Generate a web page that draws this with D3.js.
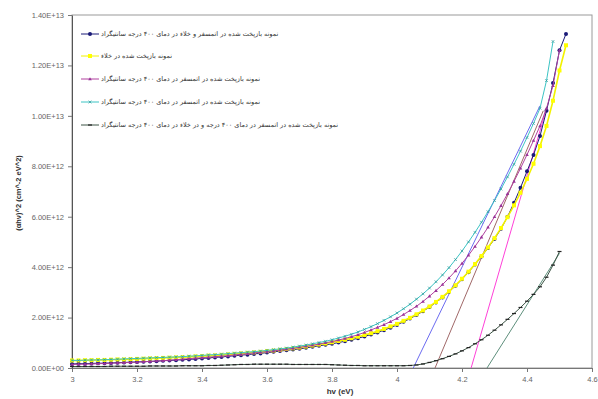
<!DOCTYPE html>
<html>
<head>
<meta charset="utf-8">
<script src="https://cdn.jsdelivr.net/npm/d3@7"></script>
<style>
  body { margin: 0; background: #fff; }
  svg { display: block; }
  .tick text { font-family: "Liberation Sans", Arial, sans-serif; font-size: 7.5px; fill: #666; }
  .leg text { font-family: "DejaVu Sans", sans-serif; font-size: 6.5px; fill: #333; }
</style>
</head>
<body>
<svg id="main"></svg>
<script>
// photon energy (eV)
var energy = [3.00,3.02,3.04,3.06,3.08,3.10,3.12,3.14,3.16,3.18,3.20,3.22,3.24,3.26,3.28,3.30,3.32,3.34,3.36,3.38,
  3.40,3.42,3.44,3.46,3.48,3.50,3.52,3.54,3.56,3.58,3.60,3.62,3.64,3.66,3.68,3.70,3.72,3.74,3.76,3.78,
  3.80,3.82,3.84,3.86,3.88,3.90,3.92,3.94,3.96,3.98,4.00,4.02,4.04,4.06,4.08,4.10,4.12,4.14,4.16,4.18,
  4.20,4.22,4.24,4.26,4.28,4.30,4.32,4.34,4.36,4.38,4.40,4.42,4.44,4.46,4.48,4.50,4.52];

// (alpha h nu)^2, in units of 1E+12
var navyVals = [0.16,0.17,0.17,0.18,0.19,0.19,0.20,0.21,0.22,0.23,0.24,0.25,0.26,0.27,0.29,0.30,0.31,0.33,0.34,0.36,
  0.38,0.40,0.42,0.44,0.46,0.49,0.51,0.53,0.56,0.58,0.61,0.64,0.67,0.70,0.73,0.76,0.80,0.84,0.88,0.92,
  0.96,1.01,1.06,1.12,1.18,1.25,1.33,1.41,1.50,1.60,1.71,1.83,1.96,2.10,2.25,2.42,2.60,2.80,3.02,3.26,
  3.52,3.80,4.10,4.42,4.76,5.12,5.52,6.00,6.55,7.15,7.80,8.45,9.20,10.20,11.30,12.60,13.25];
var yellowVals = [0.30,0.30,0.31,0.31,0.32,0.32,0.33,0.34,0.34,0.35,0.36,0.37,0.38,0.39,0.40,0.41,0.42,0.43,0.44,0.46,
  0.47,0.49,0.50,0.52,0.54,0.56,0.58,0.60,0.62,0.64,0.67,0.69,0.72,0.75,0.78,0.81,0.85,0.89,0.93,0.97,
  1.02,1.07,1.12,1.18,1.24,1.31,1.38,1.46,1.55,1.65,1.75,1.87,1.99,2.13,2.28,2.44,2.62,2.82,3.04,3.28,
  3.54,3.82,4.12,4.44,4.78,5.15,5.55,5.98,6.45,6.95,7.50,8.10,8.80,9.60,10.60,11.80,12.80];
var magentaVals = [0.14,0.15,0.15,0.16,0.17,0.18,0.19,0.20,0.21,0.22,0.23,0.25,0.26,0.28,0.29,0.31,0.33,0.35,0.37,0.39,
  0.41,0.43,0.45,0.47,0.49,0.52,0.54,0.57,0.60,0.62,0.65,0.68,0.71,0.75,0.78,0.82,0.86,0.90,0.95,1.00,
  1.05,1.11,1.17,1.24,1.32,1.41,1.51,1.61,1.72,1.84,1.97,2.12,2.28,2.45,2.64,2.85,3.07,3.31,3.57,3.85,
  4.15,4.47,4.82,5.19,5.58,6.00,6.44,6.91,7.40,7.92,8.46,9.02,9.60,10.30,11.20,12.60,null];
var cyanVals = [0.30,0.30,0.31,0.32,0.32,0.33,0.34,0.35,0.36,0.37,0.38,0.39,0.40,0.41,0.42,0.43,0.44,0.45,0.47,0.48,
  0.50,0.52,0.53,0.55,0.57,0.59,0.61,0.63,0.65,0.67,0.70,0.73,0.76,0.79,0.83,0.87,0.91,0.96,1.01,1.06,
  1.12,1.19,1.26,1.34,1.43,1.53,1.64,1.76,1.89,2.03,2.18,2.35,2.53,2.73,2.94,3.17,3.42,3.69,3.98,4.30,
  4.64,5.00,5.38,5.78,6.20,6.64,7.10,7.58,8.08,8.60,9.14,9.70,10.30,11.40,12.95,null,null];
var blackVals = [0.06,0.06,0.06,0.06,0.06,0.06,0.07,0.07,0.07,0.07,0.07,0.07,0.08,0.08,0.08,0.08,0.08,0.09,0.09,0.09,
  0.09,0.10,0.10,0.11,0.12,0.13,0.14,0.14,0.15,0.15,0.15,0.15,0.15,0.15,0.14,0.14,0.14,0.14,0.14,0.14,
  0.13,0.12,0.11,0.10,0.10,0.09,0.09,0.09,0.09,0.09,0.09,0.09,0.10,0.12,0.16,0.22,0.29,0.37,0.46,0.56,
  0.68,0.81,0.96,1.12,1.30,1.50,1.71,1.93,2.16,2.40,2.65,2.92,3.22,3.60,4.08,4.62,null];

var seriesNames = [
  "نمونه بازپخت شده در اتمسفر و خلاء در دمای ۴۰۰ درجه سانتیگراد",
  "نمونه بازپخت شده در خلاء",
  "نمونه بازپخت شده در اتمسفر در دمای ۴۰۰ درجه سانتیگراد",
  "نمونه بازپخت شده در اتمسفر در دمای ۴۰۰ درجه سانتیگراد",
  "نمونه بازپخت شده در اتمسفر در دمای ۴۰۰ درجه و در خلاء در دمای ۴۰۰ درجه سانتیگراد"
];

// extrapolated straight lines: [x0, y0, x1, y1] (y in 1E+12)
var fitBlue = [4.05, 0, 4.44, 10.4];
var fitBrown = [4.117, 0, 4.45, 10.2];
var fitPink = [4.228, 0, 4.46, 10.3];
var fitGreen = [4.277, 0, 4.50, 4.55];

var xTicks = [3, 3.2, 3.4, 3.6, 3.8, 4, 4.2, 4.4, 4.6];
var yTicks = [0, 2, 4, 6, 8, 10, 12, 14];

var W = 598, H = 399;
var plotL = 72, plotR = 592, plotT = 15, plotB = 368;

function sciLabel(v) {
  // Excel style 0.00E+00
  var n = v * 1e12;
  if (n === 0) return "0.00E+00";
  var e = Math.floor(Math.log10(n));
  var m = n / Math.pow(10, e);
  return m.toFixed(2) + "E+" + (e < 10 ? "0" + e : e);
}

function draw() {
  var s = d3.select("#main").attr("width", W).attr("height", H);

  var x = d3.scaleLinear().domain([3, 4.6]).range([plotL, plotR]);
  var y = d3.scaleLinear().domain([0, 14]).range([plotB, plotT]);

  // plot frame
  s.append("rect")
    .attr("x", plotL).attr("y", plotT)
    .attr("width", plotR - plotL).attr("height", plotB - plotT)
    .attr("fill", "none").attr("stroke", "#9a9a9a").attr("stroke-width", 1);

  var gx = s.append("g").attr("transform", "translate(0," + plotB + ")")
    .call(d3.axisBottom(x).tickValues(xTicks).tickFormat(function(d) { return String(+d.toFixed(1)); })
      .tickSize(4).tickSizeOuter(0).tickPadding(5));
  var gy = s.append("g").attr("transform", "translate(" + plotL + ",0)")
    .call(d3.axisLeft(y).tickValues(yTicks).tickFormat(sciLabel).tickSize(4).tickSizeOuter(0).tickPadding(4));
  gx.select(".domain").attr("stroke", "#777");
  gy.select(".domain").attr("stroke", "#555");
  s.selectAll(".tick line").attr("stroke", "#777");

  s.append("text").attr("x", 340).attr("y", 394)
    .attr("text-anchor", "middle")
    .style("font-family", "Liberation Sans, Arial, sans-serif").style("font-size", "8px").style("font-weight", "bold").style("fill", "#333")
    .text("hv (eV)");
  s.append("text")
    .attr("transform", "translate(21,193) rotate(-90)")
    .attr("text-anchor", "middle")
    .style("font-family", "Liberation Sans, Arial, sans-serif").style("font-size", "7.5px").style("font-weight", "bold").style("fill", "#333")
    .text("(αhν)^2 (cm^-2 eV^2)");

  // fitted lines
  var fits = [[fitBlue, "#6b6bf0"], [fitBrown, "#a06868"], [fitPink, "#ff40d8"], [fitGreen, "#5e8f7c"]];
  s.append("g").selectAll("line").data(fits).enter().append("line")
    .attr("x1", function(d) { return x(d[0][0]); })
    .attr("y1", function(d) { return y(d[0][1]); })
    .attr("x2", function(d) { return x(d[0][2]); })
    .attr("y2", function(d) { return y(d[0][3]); })
    .attr("stroke", function(d) { return d[1]; }).attr("stroke-width", 1);

  var series = [
    { vals: navyVals, line: "#1b1b78", fill: "#1b1b78", mk: "circle" },
    { vals: yellowVals, line: "#f2f200", fill: "#ffff00", mk: "square" },
    { vals: magentaVals, line: "#b0409e", fill: "#993399", mk: "triangle" },
    { vals: cyanVals, line: "#3cc4c4", fill: "#2a9a9a", mk: "x" },
    { vals: blackVals, line: "#3d5546", fill: "#222", mk: "dash" }
  ];

  var line = d3.line()
    .x(function(d) { return x(d[0]); })
    .y(function(d) { return y(d[1]); });

  function marker(g, type, c) {
    if (type === "circle") g.append("circle").attr("r", 2).attr("fill", c);
    else if (type === "square") g.append("rect").attr("x", -2).attr("y", -2).attr("width", 4).attr("height", 4).attr("fill", c);
    else if (type === "triangle") g.append("path").attr("d", "M0,-1.8L1.8,1.3L-1.8,1.3Z").attr("fill", c);
    else if (type === "x") g.append("path").attr("d", "M-1.4,-1.4L1.4,1.4M-1.4,1.4L1.4,-1.4").attr("stroke", c).attr("stroke-width", 0.7);
    else g.append("path").attr("d", "M-2,0L2,0").attr("stroke", c).attr("stroke-width", 1.2);
  }

  series.forEach(function(sr) {
    var pts = energy.map(function(e, i) { return [e, sr.vals[i]]; })
      .filter(function(d) { return d[1] != null; });
    var g = s.append("g");
    g.append("path").datum(pts).attr("d", line)
      .attr("fill", "none").attr("stroke", sr.line).attr("stroke-width", sr.mk === "square" ? 1.6 : 1);
    g.selectAll("g.mk").data(pts).enter().append("g").attr("class", "mk")
      .attr("transform", function(d) { return "translate(" + x(d[0]) + "," + y(d[1]) + ")"; })
      .each(function() { marker(d3.select(this), sr.mk, sr.fill); });
  });

  // legend
  var legY = [34, 56, 79, 102, 125];
  var leg = s.append("g").attr("class", "leg");
  series.forEach(function(sr, i) {
    var g = leg.append("g").attr("transform", "translate(0," + legY[i] + ")");
    g.append("line").attr("x1", 81).attr("x2", 99).attr("stroke", sr.line).attr("stroke-width", 1);
    var m = g.append("g").attr("transform", "translate(90,0)");
    marker(m, sr.mk, sr.fill);
    g.append("text").attr("x", 101).attr("y", 2.3).text(seriesNames[i]);
  });
}

draw();
</script>
</body>
</html>
